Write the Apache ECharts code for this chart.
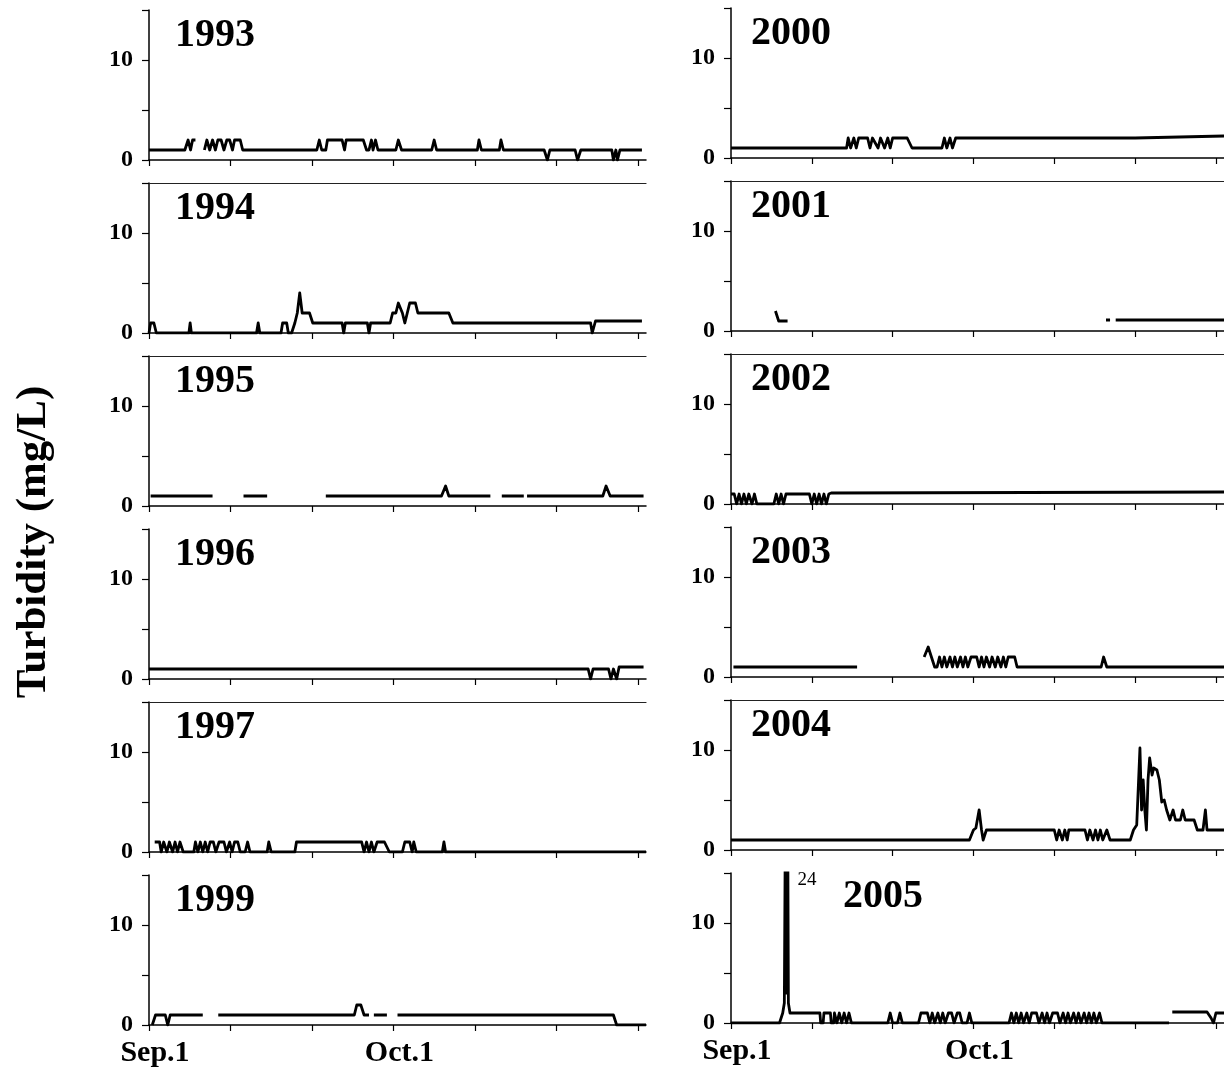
<!DOCTYPE html>
<html>
<head>
<meta charset="utf-8">
<script src="https://cdn.jsdelivr.net/npm/echarts@6/dist/echarts.min.js"></script>
<style>
  html, body { margin: 0; padding: 0; background: #fff; overflow: hidden; }
  #chart { width: 1224px; height: 1071px; }
</style>
</head>
<body>
<div id="chart"></div>
<script>
// Daily turbidity records, September–October, one panel per year.
// x = days after Sep.1, y = turbidity (mg/L); null marks a gap in the record.
const YEARS_LEFT  = ['1993', '1994', '1995', '1996', '1997', '1999'];
const YEARS_RIGHT = ['2000', '2001', '2002', '2003', '2004', '2005'];

const DAY_TICKS = [0, 10, 20, 30, 40, 50, 60];
const DAY_LABELS = { 0: 'Sep.1', 30: 'Oct.1' };
const Y_TICKS = [0, 5, 10, 15];
const Y_LABELS = [0, 10];

const t1993 = [[0,1],[4.4,1],[4.8,2],[5.1,1],[5.35,2],[5.7,2],[6.0,null],[6.8,1],[7.1,2],[7.45,1],[7.8,2],[8.15,1],[8.45,2],[8.85,2],[9.2,1],[9.55,2],[9.9,2],[10.25,1],[10.5,2],[11.2,2],[11.5,1],[20.6,1],[20.9,2],[21.2,1],[21.7,1],[21.9,2],[23.7,2],[24.0,1],[24.2,2],[26.3,2],[26.7,1],[27.0,1],[27.3,2],[27.5,1],[27.8,2],[28.1,1],[30.3,1],[30.6,2],[31.0,1],[34.7,1],[35.0,2],[35.3,1],[40.3,1],[40.5,2],[40.8,1],[43.0,1],[43.2,2],[43.5,1],[48.5,1],[48.9,0],[49.2,1],[52.3,1],[52.6,0],[53.0,1],[56.8,1],[57.0,0],[57.3,1],[57.5,0],[57.8,1],[60.5,1]];
const t1994 = [[0,0],[0.2,1],[0.6,1],[0.9,0],[4.9,0],[5.05,1],[5.2,0],[13.2,0],[13.4,1],[13.6,0],[16.2,0],[16.4,1],[16.9,1],[17.1,0],[17.5,0],[17.9,1],[18.2,2],[18.5,4],[18.8,2],[19.7,2],[20.1,1],[23.7,1],[23.9,0],[24.1,1],[26.8,1],[27.0,0],[27.2,1],[29.6,1],[29.9,2],[30.3,2],[30.6,3],[31.1,2],[31.4,1],[31.7,2],[32.0,3],[32.7,3],[33.0,2],[36.8,2],[37.3,1],[54.2,1],[54.4,0],[54.8,1.2],[60.5,1.2]];
const t1995 = [[0.2,1],[7.8,1],[7.9,null],[11.6,1],[14.5,1],[14.6,null],[21.7,1],[35.9,1],[36.4,2],[36.8,1],[41.9,1],[42.0,null],[43.3,1],[46.0,1],[46.1,null],[46.4,1],[55.7,1],[56.1,2],[56.6,1],[60.7,1]];
const t1996 = [[0,1],[53.9,1],[54.2,0],[54.5,1],[56.4,1],[56.7,0],[57.0,1],[57.4,0],[57.7,1.2],[60.7,1.2]];
const t1997 = [[0.7,1],[1.3,1],[1.5,0],[1.8,1],[2.2,0],[2.5,1],[2.9,0],[3.2,1],[3.5,0],[3.8,1],[4.2,0],[5.5,0],[5.7,1],[6.0,0],[6.3,1],[6.6,0],[6.9,1],[7.2,0],[7.5,1],[7.9,1],[8.2,0],[8.6,1],[9.2,1],[9.5,0],[9.9,1],[10.2,0],[10.5,1],[10.9,1],[11.2,0],[11.8,0],[12.1,1],[12.4,0],[14.5,0],[14.7,1],[15.0,0],[17.9,0],[18.1,1],[26.1,1],[26.4,0],[26.7,1],[27.0,0],[27.3,1],[27.6,0],[28.0,1],[28.9,1],[29.5,0],[31.1,0],[31.4,1],[32.0,1],[32.3,0],[32.5,1],[32.8,0],[36.0,0],[36.2,1],[36.4,0],[61,0]];
const t1999 = [[0.4,0],[0.8,1],[2.0,1],[2.3,0],[2.6,1],[6.6,1],[6.7,null],[8.5,1],[25.2,1],[25.5,2],[26.0,2],[26.4,1],[27.0,1],[27.1,null],[27.6,1],[29.2,1],[29.3,null],[30.5,1],[57.0,1],[57.4,0],[61,0]];

const t2000 = [[0,1],[14.3,1],[14.5,2],[14.8,1],[15.2,2],[15.5,1],[15.8,2],[16.9,2],[17.2,1],[17.5,2],[18.2,1],[18.5,2],[19.0,1],[19.4,2],[19.7,1],[20.0,2],[21.8,2],[22.4,1],[26.1,1],[26.4,2],[26.7,1],[27.1,2],[27.4,1],[27.8,2],[50,2],[61,2.2]];
const t2001 = [[5.5,2],[5.9,1],[7.0,1],[7.1,null],[46.4,1.1],[46.9,1.1],[47.0,null],[47.6,1.1],[61,1.1]];
const t2002 = [[0,1],[0.4,1],[0.7,0],[1.0,1],[1.3,0],[1.6,1],[1.9,0],[2.2,1],[2.6,0],[2.9,1],[3.2,0],[5.3,0],[5.6,1],[5.9,0],[6.2,1],[6.5,0],[6.8,1],[9.7,1],[10.0,0],[10.3,1],[10.6,0],[10.9,1],[11.2,0],[11.5,1],[11.8,0],[12.1,1],[12.4,1.1],[61,1.2]];
const t2003 = [[0.3,1],[15.6,1],[15.7,null],[23.9,2],[24.4,3],[24.8,2],[25.2,1],[25.5,1],[25.8,2],[26.1,1],[26.4,2],[26.7,1],[27.1,2],[27.4,1],[27.7,2],[28.0,1],[28.4,2],[28.7,1],[29.0,2],[29.3,1],[29.7,2],[30.4,2],[30.7,1],[31.0,2],[31.3,1],[31.6,2],[32.0,1],[32.3,2],[32.7,1],[33.0,2],[33.4,1],[33.7,2],[34.0,1],[34.3,2],[35.1,2],[35.4,1],[45.8,1],[46.1,2],[46.5,1],[61,1]];
const t2004 = [[0,1],[29.5,1],[30.0,2],[30.3,2.2],[30.7,4],[31.0,2],[31.2,1],[31.6,2],[40.0,2],[40.3,1],[40.6,2],[41.0,1],[41.3,2],[41.6,1],[41.8,2],[43.8,2],[44.1,1],[44.4,2],[44.8,1],[45.1,2],[45.4,1],[45.7,2],[46.0,1],[46.5,2],[46.9,1],[49.4,1],[49.8,2],[50.2,2.5],[50.6,10.2],[50.8,4],[51.0,7],[51.2,4],[51.4,2],[51.6,7],[51.8,9.2],[52.1,7.5],[52.3,8.2],[52.7,8],[53.0,7],[53.3,4.8],[53.6,5],[53.9,4],[54.3,3],[54.7,4],[55.0,3],[55.6,3],[55.9,4],[56.2,3],[57.3,3],[57.7,2],[58.4,2],[58.7,4],[58.9,2],[61,2]];
const t2005 = [[0,0],[6.0,0],[6.4,1],[6.6,2],[6.75,24],[6.9,3],[7.0,24],[7.1,2],[7.3,1],[11.0,1],[11.1,0],[11.4,0],[11.5,1],[12.3,1],[12.4,0],[12.7,0],[12.8,1],[13.1,0],[13.4,1],[13.7,0],[14.0,1],[14.3,0],[14.6,1],[14.9,0],[19.4,0],[19.7,1],[20.0,0],[20.6,0],[20.9,1],[21.2,0],[23.2,0],[23.5,1],[24.3,1],[24.6,0],[24.9,1],[25.2,0],[25.6,1],[25.9,0],[26.2,1],[26.5,0],[26.9,1],[27.3,1],[27.6,0],[28.0,1],[28.3,1],[28.6,0],[29.2,0],[29.5,1],[29.8,0],[34.4,0],[34.7,1],[35.0,0],[35.3,1],[35.6,0],[35.9,1],[36.2,0],[36.6,1],[36.9,0],[37.2,1],[37.8,1],[38.1,0],[38.5,1],[38.8,0],[39.1,1],[39.4,0],[39.8,1],[40.4,1],[40.7,0],[41.1,1],[41.4,0],[41.7,1],[42.0,0],[42.4,1],[42.7,0],[43.0,1],[43.3,0],[43.7,1],[44.0,0],[44.3,1],[44.6,0],[44.9,1],[45.2,0],[45.6,1],[45.9,0],[54.2,0],[54.3,null],[54.6,1.1],[58.9,1.1],[59.4,0.5],[59.7,0],[60.0,1],[61,1]];

const SERIES_LEFT  = [t1993, t1994, t1995, t1996, t1997, t1999];
const SERIES_RIGHT = [t2000, t2001, t2002, t2003, t2004, t2005];

// Panels whose upper frame edge is drawn.
const FRAMED = ['1994', '1995', '1997', '2001', '2002', '2004'];

const SERIF = '"Liberation Serif", "Times New Roman", serif';
const X_MAX = 61;
const Y_MAX = 15;

// Panel geometry
const COLS = [
  { left: 149, width: 497, top0: 10, yearX: 175 },
  { left: 731, width: 494, top0: 8,  yearX: 751 }
];
const ROW_STEP = 173;
const PANEL_H = 150;

const panels = [];
[YEARS_LEFT, YEARS_RIGHT].forEach((years, c) => {
  const seriesSet = c === 0 ? SERIES_LEFT : SERIES_RIGHT;
  years.forEach((year, r) => {
    panels.push({ year, data: seriesSet[r], col: c, row: r, bottom: r === years.length - 1 });
  });
});

const grid = [], xAxis = [], yAxis = [], series = [], graphic = [];

panels.forEach((p, i) => {
  const col = COLS[p.col];
  const top = col.top0 + p.row * ROW_STEP;
  grid.push({ left: col.left, top: top, width: col.width, height: PANEL_H, containLabel: false });

  xAxis.push({
    type: 'value', gridIndex: i, min: 0, max: X_MAX,
    axisLine: { show: true, onZero: false, lineStyle: { color: '#000', width: 1.5 } },
    axisTick: { show: true, customValues: DAY_TICKS, length: 6, inside: false, lineStyle: { color: '#000', width: 1.2 } },
    axisLabel: {
      show: p.bottom, customValues: [0, 30],
      formatter: v => DAY_LABELS[v] || '',
      fontFamily: SERIF, fontWeight: 'bold', fontSize: 30, color: '#000',
      margin: 13, padding: [0, 0, 0, 12]
    },
    splitLine: { show: false }
  });

  yAxis.push({
    type: 'value', gridIndex: i, min: 0, max: Y_MAX,
    axisLine: { show: true, onZero: false, lineStyle: { color: '#000', width: 1.5 } },
    axisTick: { show: true, customValues: Y_TICKS, length: 7, lineStyle: { color: '#000', width: 1.2 } },
    axisLabel: {
      customValues: Y_LABELS,
      fontFamily: SERIF, fontWeight: 'bold', fontSize: 24, color: '#000', margin: 16
    },
    splitLine: { show: false }
  });

  series.push({
    name: p.year, type: 'line', xAxisIndex: i, yAxisIndex: i,
    data: p.data, showSymbol: false, symbol: 'none', connectNulls: false,
    clip: true, animation: false,
    lineStyle: { color: '#000', width: 2.8, join: 'round' }
  });

  const isLast = p.year === '2005';
  graphic.push({
    type: 'text', id: 'year' + p.year,
    x: isLast ? 843 : col.yearX,
    y: isLast ? top + 4 : top + 6,
    style: {
      text: p.year, font: 'bold 40px ' + SERIF, fill: '#000',
      textAlign: 'left', textVerticalAlign: 'top'
    }
  });
});

// Upper frame edges
panels.forEach((p, i) => {
  if (FRAMED.indexOf(p.year) < 0) return;
  xAxis.push({
    type: 'value', gridIndex: i, min: 0, max: X_MAX, position: 'top',
    axisLine: { show: true, onZero: false, lineStyle: { color: '#222', width: 1.2 } },
    axisTick: { show: false }, axisLabel: { show: false }, splitLine: { show: false }
  });
});

graphic.push({
  type: 'text', id: 'ytitle', x: 34, y: 542, rotation: Math.PI / 2,
  style: {
    text: 'Turbidity (mg/L)', font: 'bold 43px ' + SERIF, fill: '#000',
    textAlign: 'center', textVerticalAlign: 'middle'
  }
});

const chart = echarts.init(document.getElementById('chart'), null, { renderer: 'canvas' });
chart.setOption({
  backgroundColor: '#fff',
  animation: false,
  grid, xAxis, yAxis, series, graphic
});

// Value note for the 2005 peak, which runs past the top of its panel.
const idx2005 = panels.findIndex(p => p.year === '2005');
let peak = t2005[0];
t2005.forEach(pt => { if (pt[1] != null && pt[1] > peak[1]) peak = pt; });
const peakPx = chart.convertToPixel({ gridIndex: idx2005 }, [peak[0], Y_MAX]);
chart.setOption({
  graphic: [{
    type: 'text', id: 'peakNote', x: peakPx[0] + 12, y: peakPx[1] + 7,
    style: {
      text: String(peak[1]), font: '19px ' + SERIF, fill: '#000',
      textAlign: 'left', textVerticalAlign: 'middle'
    }
  }]
});
</script>
</body>
</html>
